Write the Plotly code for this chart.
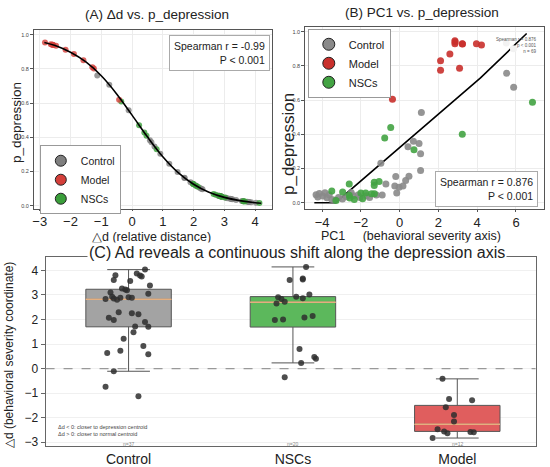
import plotly.graph_objects as go

FONT = "Liberation Sans, Arial, sans-serif"

# ---- data ----
groups = ["Control", "NSCs", "Model"]

# delta d per sample (shared by panel A and C)
control_dd = [4.03, 3.87, 3.80, 3.79, 3.75, 3.61, 3.57, 3.38, 3.26, 3.22, 3.19, 3.10, 3.05,
              2.92, 2.90, 2.88, 2.88, 2.85, 2.83, 2.80, 2.29, 2.25, 2.21, 2.07, 1.98, 1.90,
              1.71, 1.70, 1.48, 1.21, 0.92, 0.73, 0.63, 0.58, -0.11, -0.74, -1.13]
nscs_dd = [4.14, 3.67, 3.63, 3.61, 3.02, 2.92, 2.90, 2.86, 2.83, 2.72, 2.65, 2.14, 2.08,
           2.00, 1.98, 0.80, 0.47, 0.40, 0.23, -0.35]
model_dd = [-0.42, -1.24, -1.29, -1.58, -1.89, -2.16, -2.47, -2.56, -2.64, -2.58, -2.59, -2.83]

# p_depression in panel A (points sit on the fitted curve)
control_pa = [0.017, 0.021, 0.022, 0.022, 0.023, 0.027, 0.028, 0.034, 0.038, 0.039, 0.041,
              0.044, 0.047, 0.053, 0.054, 0.055, 0.055, 0.057, 0.058, 0.059, 0.096, 0.100,
              0.104, 0.118, 0.128, 0.137, 0.162, 0.164, 0.197, 0.245, 0.304, 0.347, 0.371,
              0.383, 0.558, 0.707, 0.762]
nscs_pa = [0.016, 0.025, 0.026, 0.027, 0.048, 0.053, 0.054, 0.056, 0.058, 0.064, 0.069,
           0.111, 0.117, 0.126, 0.128, 0.331, 0.410, 0.428, 0.471, 0.610]
model_pa = [0.620, 0.802, 0.810, 0.851, 0.888, 0.913, 0.935, 0.940, 0.945, 0.941, 0.942, 0.954]

# fitted logistic curve of panel A
curve_dd = [-2.85, -2.5, -2.0, -1.5, -1.0, -0.5, 0.0, 0.5, 1.0, 1.5, 2.0, 2.5, 3.0, 3.5, 4.0, 4.2]
curve_p = [0.955, 0.937, 0.898, 0.841, 0.760, 0.654, 0.530, 0.403, 0.287, 0.194, 0.126,
           0.079, 0.049, 0.030, 0.018, 0.015]

# panel B: PC1 and p_depression
control_pc1 = [5.52, 5.88, 1.12, 0.71, 1.00, 0.43, 1.08, -0.97, 1.08, -0.20, 0.48, 0.31,
               -0.71, -0.25, -0.03, 0.17, -0.15, -4.31, -4.14, -4.22, -3.85, -3.97, -3.75,
               -3.63, -3.50, -3.33, -3.15, -2.95, -2.75, -2.50, -2.40, -2.15, -2.05, -1.70,
               -1.55, -1.20, -0.90]
control_pb = [0.757, 0.676, 0.527, 0.359, 0.347, 0.327, 0.287, 0.231, 0.188, 0.153, 0.155,
              0.130, 0.110, 0.097, 0.091, 0.097, 0.056, 0.047, 0.054, 0.033, 0.058, 0.039,
              0.029, 0.047, 0.019, 0.016, 0.030, 0.022, 0.035, 0.060, 0.040, 0.045, 0.030,
              0.040, 0.030, 0.045, 0.045]
nscs_pc1 = [6.85, 3.23, -0.46, -0.77, 0.74, -1.31, -1.06, -1.31, -2.60, -3.50, -3.28, -2.94,
            -2.60, -2.57, -2.34, -1.91, -2.00, -1.75, -1.45, -1.30]
nscs_pb = [0.587, 0.401, 0.440, 0.378, 0.310, 0.120, 0.124, 0.100, 0.110, 0.068, 0.013, 0.062,
           0.043, 0.027, 0.019, 0.023, 0.056, 0.056, 0.052, 0.052]
model_pc1 = [-0.37, 2.11, 2.11, 2.59, 3.09, 2.85, 2.85, 3.23, 3.96, 4.22, 2.86, 3.24]
model_pb = [0.605, 0.831, 0.775, 0.870, 0.787, 0.948, 0.930, 0.930, 0.930, 0.922, 0.940, 0.928]
faint_pc1 = [5.50, 5.87]
faint_pb = [0.934, 0.900]

# fitted line of panel B
fit_pc1 = [-4.4, -3.3, 4.17, 6.55]
fit_p = [0.0, 0.0, 0.73, 0.99]

# panel C: horizontal jitter of each point (category units) and box stats
control_jit = [0.10, 0.05, -0.08, 0.07, 0.08, -0.09, 0.01, 0.13, -0.04, -0.02, -0.01, -0.11,
               0.12, -0.10, 0.00, -0.05, 0.02, -0.09, -0.14, -0.07, -0.06, 0.02, 0.06, -0.12,
               -0.09, 0.10, 0.04, 0.12, 0.03, -0.03, 0.09, -0.05, -0.13, 0.12, -0.09, -0.14, 0.06]
nscs_jit = [0.08, 0.06, 0.06, -0.02, 0.10, 0.02, -0.09, 0.06, -0.07, -0.05, -0.10, 0.12, 0.07,
            -0.06, -0.11, 0.04, 0.13, 0.14, 0.05, -0.05]
model_jit = [-0.09, -0.05, 0.09, -0.07, -0.02, -0.02, -0.12, -0.08, -0.06, 0.08, 0.10, -0.15]

box_q1 = [1.70, 1.69, -2.56]
box_median = [2.82, 2.70, -2.27]
box_q3 = [3.23, 2.93, -1.50]
box_low = [-0.11, 0.23, -2.83]
box_high = [4.03, 4.14, -0.42]

col_a = {"Control": "#7f7f7f", "Model": "#d43f3a", "NSCs": "#3a9e3a"}
col_b = {"Control": "#8a8a8a", "Model": "#c9302c", "NSCs": "#43a343"}
box_fill = {"Control": "#a3a3a3", "NSCs": "#5cb85c", "Model": "#e05e5e"}

dd = {"Control": control_dd, "NSCs": nscs_dd, "Model": model_dd}
pa = {"Control": control_pa, "NSCs": nscs_pa, "Model": model_pa}
pc1 = {"Control": control_pc1, "NSCs": nscs_pc1, "Model": model_pc1}
pb = {"Control": control_pb, "NSCs": nscs_pb, "Model": model_pb}
jit = {"Control": control_jit, "NSCs": nscs_jit, "Model": model_jit}

fig = go.Figure()

# ---- panel A ----
for g in ["Control", "NSCs", "Model"]:
    fig.add_trace(go.Scatter(x=dd[g], y=pa[g], mode="markers", xaxis="x", yaxis="y",
                             marker=dict(size=6, color=col_a[g], opacity=0.8),
                             showlegend=False, hoverinfo="skip"))
fig.add_trace(go.Scatter(x=curve_dd, y=curve_p, mode="lines", xaxis="x", yaxis="y",
                         line=dict(color="black", width=1.6, shape="spline"),
                         showlegend=False, hoverinfo="skip"))
for g in ["Control", "Model", "NSCs"]:
    fig.add_trace(go.Scatter(x=[None], y=[None], mode="markers", name=g, legend="legend",
                             xaxis="x", yaxis="y",
                             marker=dict(size=11, color=col_a[g], line=dict(color="#222", width=1))))

# ---- panel B ----
fig.add_trace(go.Scatter(x=fit_pc1, y=fit_p, mode="lines", xaxis="x2", yaxis="y2",
                         line=dict(color="black", width=1.6), showlegend=False, hoverinfo="skip"))
for g in ["Control", "NSCs", "Model"]:
    fig.add_trace(go.Scatter(x=pc1[g], y=pb[g], mode="markers", xaxis="x2", yaxis="y2",
                             marker=dict(size=7, color=col_b[g], opacity=0.9),
                             showlegend=False, hoverinfo="skip"))
fig.add_trace(go.Scatter(x=faint_pc1, y=faint_pb, mode="markers", xaxis="x2", yaxis="y2",
                         marker=dict(size=7, color="#f2f2f2"), showlegend=False, hoverinfo="skip"))
for g in ["Control", "Model", "NSCs"]:
    fig.add_trace(go.Scatter(x=[None], y=[None], mode="markers", name=g, legend="legend2",
                             xaxis="x2", yaxis="y2",
                             marker=dict(size=12, color=col_b[g], line=dict(color="#222", width=1))))

# ---- panel C ----
for i, g in enumerate(groups):
    fig.add_trace(go.Box(x=[i], q1=[box_q1[i]], median=[box_median[i]], q3=[box_q3[i]],
                         lowerfence=[box_low[i]], upperfence=[box_high[i]],
                         width=0.52, whiskerwidth=0.5, fillcolor=box_fill[g],
                         line=dict(color="#555", width=1), xaxis="x3", yaxis="y3",
                         showlegend=False, hoverinfo="skip"))
    # faint orange median line
    fig.add_trace(go.Box(x=[i], q1=[box_median[i]], median=[box_median[i]], q3=[box_median[i]],
                         lowerfence=[box_median[i]], upperfence=[box_median[i]],
                         width=0.52, whiskerwidth=0, fillcolor="rgba(0,0,0,0)",
                         line=dict(color="#e6b080", width=1), xaxis="x3", yaxis="y3",
                         showlegend=False, hoverinfo="skip"))
for i, g in enumerate(groups):
    fig.add_trace(go.Scatter(x=[i + j for j in jit[g]], y=dd[g], mode="markers",
                             xaxis="x3", yaxis="y3",
                             marker=dict(size=6, color="#2e2e2e", opacity=0.85),
                             showlegend=False, hoverinfo="skip"))

fig.add_shape(type="line", xref="x3 domain", yref="y3", x0=0, x1=1, y0=0, y1=0,
              line=dict(color="#999", width=1.2, dash="dash"))

axis_common = dict(showline=True, mirror=True, linecolor="#555", linewidth=1,
                   ticks="outside", tickcolor="#555", zeroline=False,
                   showgrid=True, gridcolor="#ececec", gridwidth=0.6)

fig.update_layout(
    width=550, height=467,
    margin=dict(l=0, r=0, t=0, b=0),
    paper_bgcolor="white", plot_bgcolor="white",
    font=dict(family=FONT, color="#222"),
    boxmode="overlay",
    xaxis=dict(domain=[0.0582, 0.4922], anchor="y", range=[-3.19, 4.54],
               tickvals=[-3, -2, -1, 0, 1, 2, 3, 4], tickfont=dict(size=13, color="#222"),
               ticklen=1, **axis_common),
    yaxis=dict(domain=[0.5503, 0.9358], anchor="x", range=[-0.017, 1.029],
               tickvals=[0, 0.2, 0.4, 0.6, 0.8, 1.0], tickformat=".1f",
               tickfont=dict(size=5.5, color="#444"), ticklen=3, **axis_common),
    xaxis2=dict(domain=[0.5533, 0.9896], anchor="y2", range=[-4.87, 7.46],
                tickvals=[-4, -2, 0, 2, 4, 6], tickfont=dict(size=13, color="#222"),
                ticklen=2, **axis_common),
    yaxis2=dict(domain=[0.5503, 0.9422], anchor="x2", range=[-0.035, 1.029],
                tickvals=[0, 0.2, 0.4, 0.6, 0.8, 1.0], tickformat=".1f",
                tickfont=dict(size=5.5, color="#444"), ticklen=3, **axis_common),
    xaxis3=dict(domain=[0.0795, 0.9736], anchor="y3", range=[-0.505, 2.476],
                tickvals=[0, 1, 2], ticktext=groups, tickfont=dict(size=14, color="#222"),
                showline=True, mirror=True, linecolor="#666", linewidth=1,
                ticks="", showgrid=False, zeroline=False),
    yaxis3=dict(domain=[0.0385, 0.4454], anchor="x3", range=[-3.16, 4.53],
                tickvals=[-3, -2, -1, 0, 1, 2, 3, 4], tickfont=dict(size=12, color="#222"),
                showline=True, mirror=True, linecolor="#666", linewidth=1,
                ticks="outside", ticklen=4, tickcolor="#666",
                showgrid=True, gridcolor="#f0f0f0", zeroline=False),
    legend=dict(x=0.069, y=0.687, xanchor="left", yanchor="top", bgcolor="white",
                bordercolor="#999", borderwidth=1, font=dict(size=10.5, color="#222"),
                itemwidth=30, tracegroupgap=0),
    legend2=dict(x=0.558, y=0.938, xanchor="left", yanchor="top", bgcolor="white",
                 bordercolor="#999", borderwidth=1, font=dict(size=11, color="#222"),
                 itemwidth=30, tracegroupgap=0),
)

ann = [
    # titles
    dict(text="(A) \u0394d vs. p_depression", x=0.282, y=0.968, size=13.5),
    dict(text="(B) PC1 vs. p_depression", x=0.767, y=0.972, size=13.5),
    # axis titles
    dict(text="\u25b3d (relative distance)", x=0.273, y=0.489, size=12.5),
    dict(text="PC1\u00a0\u00a0\u00a0\u00a0\u00a0(behavioral severity axis)", x=0.747, y=0.491, size=12.5),
    dict(text="p_depression", x=0.0255, y=0.737, size=13.5, angle=-90),
    dict(text="p_depression", x=0.524, y=0.69, size=17, angle=-90),
    dict(text="\u25b3d (behavioral severity coordinate)", x=0.013, y=0.235, size=12, angle=-90),
]
for a in ann:
    fig.add_annotation(text=a["text"], x=a["x"], y=a["y"], xref="paper", yref="paper",
                       xanchor="center", yanchor="middle",
                       showarrow=False, textangle=a.get("angle", 0),
                       font=dict(size=a["size"], color="#222"))

fig.add_annotation(text="(C) Ad reveals a continuous shift along the depression axis",
                   x=0.538, y=0.455, xref="paper", yref="paper", xanchor="center",
                   yanchor="middle", showarrow=False,
                   bgcolor="white", borderpad=1, font=dict(size=16, color="#222"))

# statistics boxes
fig.add_annotation(text="Spearman r = -0.99<br>P &lt; 0.001", x=0.489, y=0.925,
                   xref="paper", yref="paper", xanchor="right", yanchor="top", align="right",
                   showarrow=False, bgcolor="white", bordercolor="#aaa", borderwidth=1,
                   borderpad=4, font=dict(size=10.5, color="#222"))
fig.add_annotation(text="Spearman r = 0.876<br>P &lt; 0.001", x=0.978, y=0.632,
                   xref="paper", yref="paper", xanchor="right", yanchor="top", align="right",
                   showarrow=False, bgcolor="white", bordercolor="#aaa", borderwidth=1,
                   borderpad=4, font=dict(size=10.5, color="#222"))
fig.add_annotation(text="Spearman r = 0.876<br>p &lt; 0.001<br>n = 69", x=0.978, y=0.925,
                   xref="paper", yref="paper", xanchor="right", yanchor="top", align="right",
                   showarrow=False, font=dict(size=4.5, color="#555"))

# panel C notes
fig.add_annotation(text="\u0394d &lt; 0: closer to depression centroid<br>\u0394d &gt; 0: closer to normal centroid",
                   x=0.098, y=0.072, xref="paper", yref="paper", xanchor="left", yanchor="middle",
                   align="left", showarrow=False, font=dict(size=5.5, color="#444"))
for i, g in enumerate(groups):
    fig.add_annotation(text="n=%d" % len(dd[g]), x=i, y=-3.08, xref="x3", yref="y3",
                       xanchor="center", yanchor="middle",
                       showarrow=False, font=dict(size=5, color="#888"))

# page body has a default 8px margin; drop it so the figure sits at the top-left corner
fig.write_html("out.html", config={"displayModeBar": False},
               post_script="document.body.style.margin='0px';")
